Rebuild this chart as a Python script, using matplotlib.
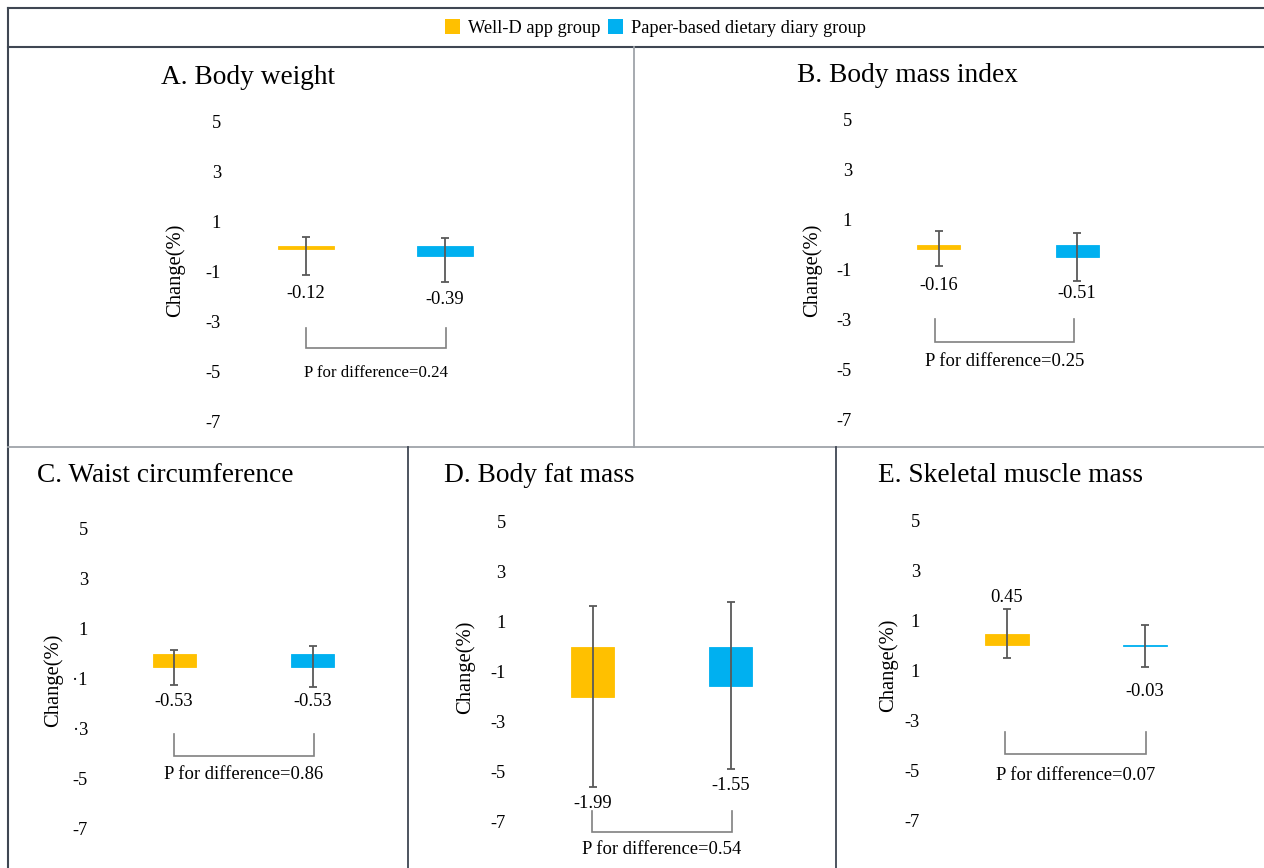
import matplotlib
matplotlib.use('Agg')
import matplotlib.pyplot as plt
from matplotlib.lines import Line2D
from matplotlib.patches import Patch

W, H = 1264, 868
plt.rcParams['font.family'] = ['Liberation Serif', 'DejaVu Serif']

# ---------------- data ----------------
groups = ['Well-D app group', 'Paper-based dietary diary group']
colors = ['#FFC000', '#00B0F0']
tick_vals = [5, 3, 1, -1, -3, -5, -7]

titles = ['A. Body weight', 'B. Body mass index', 'C. Waist circumference',
          'D. Body fat mass', 'E. Skeletal muscle mass']

ticks_A = ['5', '3', '1', '-1', '-3', '-5', '-7']
ticks_B = ['5', '3', '1', '-1', '-3', '-5', '-7']
ticks_C = ['5', '3', '1', '\u00b71', '\u00b73', '-5', '-7']
ticks_D = ['5', '3', '1', '-1', '-3', '-5', '-7']
ticks_E = ['5', '3', '1', '1', '-3', '-5', '-7']

values_A = [-0.12, -0.39]
values_B = [-0.16, -0.51]
values_C = [-0.53, -0.53]
values_D = [-1.99, -1.55]
values_E = [0.45, -0.03]

ci_low_A = [-1.16, -1.43]
ci_high_A = [0.36, 0.31]
ci_low_B = [-0.85, -1.46]
ci_high_B = [0.54, 0.47]
ci_low_C = [-1.25, -1.34]
ci_high_C = [0.16, 0.31]
ci_low_D = [-5.61, -4.89]
ci_high_D = [1.64, 1.80]
ci_low_E = [-0.52, -0.88]
ci_high_E = [1.44, 0.81]

p_values = [0.24, 0.25, 0.86, 0.54, 0.07]

# ---------------- layout (pixels) ----------------
layouts = [
    dict(xl=221, xr=630, yt=95, yb=440, z=246.0, c0=306, c1=445, bw=56,
         lab=[-1.88, -2.12], bx=(306, 446), by=(-3.28, -4.08), py=-5.08, pfs=12.2,
         title=(161, 78), ylab=(175, 270)),
    dict(xl=852, xr=1260, yt=95, yb=440, z=244.5, c0=938.5, c1=1077, bw=43,
         lab=[-1.66, -1.94], bx=(935, 1074), by=(-2.98, -3.89), py=-4.69, pfs=13.4,
         title=(797, 76), ylab=(812, 270)),
    dict(xl=88, xr=404, yt=500, yb=866, z=653.7, c0=174, c1=312.5, bw=43,
         lab=[-1.93, -1.93], bx=(173.7, 314), by=(-3.22, -4.08), py=-4.85, pfs=13.4,
         title=(37, 476), ylab=(53, 680)),
    dict(xl=505.7, xr=832, yt=500, yb=866, z=647.0, c0=592.5, c1=730.7, bw=43,
         lab=[-6.25, -5.52], bx=(591.7, 731.7), by=(-6.56, -7.39), py=-8.12, pfs=13.4,
         title=(444, 476), ylab=(465, 667)),
    dict(xl=920, xr=1260, yt=500, yb=866, z=645.3, c0=1007, c1=1145, bw=44,
         lab=[1.90, -1.86], bx=(1005, 1145.7), by=(-3.46, -4.35), py=-5.19, pfs=13.4,
         title=(878, 476), ylab=(888, 665)),
]

all_vals = [values_A, values_B, values_C, values_D, values_E]
all_lo = [ci_low_A, ci_low_B, ci_low_C, ci_low_D, ci_low_E]
all_hi = [ci_high_A, ci_high_B, ci_high_C, ci_high_D, ci_high_E]
all_ticks = [ticks_A, ticks_B, ticks_C, ticks_D, ticks_E]

PX_PER_UNIT = 25.0

fig = plt.figure(figsize=(W / 100, H / 100), dpi=100)
fig.patch.set_facecolor('white')

for i in range(5):
    L = layouts[i]
    vals, lo, hi = all_vals[i], all_lo[i], all_hi[i]
    s = L['c1'] - L['c0']
    xl, xr, yt, yb = L['xl'], L['xr'], L['yt'], L['yb']
    ax = fig.add_axes([xl / W, 1 - yb / H, (xr - xl) / W, (yb - yt) / H])
    ax.set_xlim((xl - L['c0']) / s, (xr - L['c0']) / s)
    ax.set_ylim((L['z'] - yb) / PX_PER_UNIT, (L['z'] - yt) / PX_PER_UNIT)
    for sp in ax.spines.values():
        sp.set_visible(False)
    ax.patch.set_alpha(0)
    x = [0, 1]
    ax.bar(x, vals, width=L['bw'] / s, color=colors, edgecolor=colors, linewidth=0.6)
    yerr = [[v - l for v, l in zip(vals, lo)], [h - v for v, h in zip(vals, hi)]]
    ax.errorbar(x, vals, yerr=yerr, fmt='none', ecolor='#595959',
                elinewidth=1.3, capsize=2.6, capthick=1.3)
    for xi, v, ly in zip(x, vals, L['lab']):
        ax.text(xi, ly, f'{v:.2f}', ha='center', va='center', fontsize=13.3)
    bx0 = (L['bx'][0] - L['c0']) / s
    bx1 = (L['bx'][1] - L['c0']) / s
    bt, bb = L['by']
    ax.plot([bx0, bx0, bx1, bx1], [bt, bb, bb, bt], color='#808080', lw=1.2,
            clip_on=False, solid_joinstyle='miter')
    ax.text((bx0 + bx1) / 2, L['py'], f'P for difference={p_values[i]:.2f}',
            ha='center', va='center', fontsize=L['pfs'], clip_on=False)
    ax.set_xticks([])
    ax.set_yticks(tick_vals, labels=all_ticks[i])
    ax.tick_params(axis='y', length=0, pad=0, labelsize=13.3)
    fig.text(L['title'][0] / W, 1 - L['title'][1] / H, titles[i],
             ha='left', va='center', fontsize=19.7)
    fig.text(L['ylab'][0] / W, 1 - L['ylab'][1] / H, 'Change(%)', rotation=90,
             ha='center', va='center', fontsize=14.8)

# legend
handles = [Patch(facecolor=c, edgecolor='none', label=g) for c, g in zip(colors, groups)]
fig.legend(handles=handles, loc='center', bbox_to_anchor=(655.5 / W, 1 - 28 / H),
           ncol=2, frameon=False, fontsize=13.2, handlelength=0.82, handleheight=0.82,
           handletextpad=0.43, columnspacing=0.42, borderpad=0, borderaxespad=0)

# frame lines
def hline(y, x0, x1, color, lw):
    fig.add_artist(Line2D([x0 / W, x1 / W], [1 - y / H, 1 - y / H],
                          transform=fig.transFigure, color=color, lw=lw))

def vline(x, y0, y1, color, lw):
    fig.add_artist(Line2D([x / W, x / W], [1 - y0 / H, 1 - y1 / H],
                          transform=fig.transFigure, color=color, lw=lw))

dark = '#3f4753'
light = '#9fa4a9'
hline(7.5, 7.5, W, dark, 1.5)
vline(7.5, 7.5, H, dark, 1.5)
hline(47, 7.5, W, dark, 1.5)
hline(447, 7.5, W, light, 1.3)
vline(634, 47, 447, light, 1.3)
vline(407.5, 447, H, dark, 1.3)
vline(835.5, 447, H, dark, 1.3)

fig.savefig('out.png', dpi=100)
